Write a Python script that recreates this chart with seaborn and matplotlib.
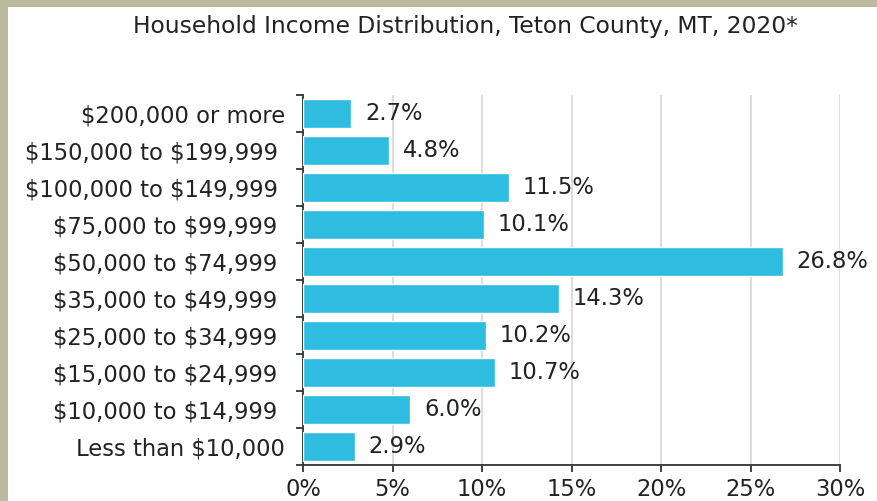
import matplotlib
matplotlib.use("Agg")
import matplotlib.pyplot as plt
from matplotlib.patches import Rectangle
from matplotlib.ticker import FixedLocator
import seaborn as sns
import pandas as pd

categories = ["$200,000 or more", "$150,000 to $199,999", "$100,000 to $149,999",
              "$75,000 to $99,999", "$50,000 to $74,999", "$35,000 to $49,999",
              "$25,000 to $34,999", "$15,000 to $24,999", "$10,000 to $14,999",
              "Less than $10,000"]
values = [2.7, 4.8, 11.5, 10.1, 26.8, 14.3, 10.2, 10.7, 6.0, 2.9]
x_ticks = [0, 5, 10, 15, 20, 25, 30]
x_tick_labels = ["0%", "5%", "10%", "15%", "20%", "25%", "30%"]
title = "Household Income Distribution, Teton County, MT, 2020*"

df = pd.DataFrame({"category": categories, "value": values})

sns.set_style("white")
plt.rcParams['font.family'] = ['DejaVu Sans']
plt.rcParams['text.parse_math'] = False

FS = 16.3

fig = plt.figure(figsize=(8.77, 5.01), dpi=100)
fig.patch.set_facecolor("#bcba9e")
fig.patches.append(Rectangle((8/877, 0), 1 - 8/877, 1 - 7/501, transform=fig.transFigure,
                             facecolor="white", edgecolor="none", zorder=-10))

ax = fig.add_axes([303/877, 1 - 465/501, 537/877, 370/501])
ax.set_facecolor("white")
sns.barplot(data=df, x="value", y="category", orient="h", color="#2ebde0",
            saturation=1, width=0.78, ax=ax, zorder=3)

ax.set_xlim(0, 30)
ax.set_ylim(9.5, -0.5)
ax.set_xticks(x_ticks)
ax.set_xticklabels(x_tick_labels, fontsize=FS, color="#222222")
ax.set_yticks(range(len(categories)))
# range labels in the reference carry a trailing space
ax.set_yticklabels([c + " " if " to " in c else c for c in categories],
                   fontsize=FS, color="#222222")
ax.tick_params(axis="y", which="major", length=0, pad=13)
ax.yaxis.set_minor_locator(FixedLocator([i - 0.5 for i in range(len(categories) + 1)]))
ax.tick_params(axis="y", which="minor", length=5, width=1.3, color="#333333", left=True)
ax.tick_params(axis="x", which="major", length=5, width=1.3, color="#333333", bottom=True, pad=4)
ax.set_xlabel("")
ax.set_ylabel("")
ax.grid(axis="x", color="#dddddd", linewidth=1.5, zorder=0)
ax.set_axisbelow(True)
for s in ["top", "right"]:
    ax.spines[s].set_visible(False)
for s in ["left", "bottom"]:
    ax.spines[s].set_color("#333333")
    ax.spines[s].set_linewidth(1.3)

for i, v in enumerate(values):
    ax.annotate(f"{v:.1f}%", xy=(v, i), xytext=(10, 0), textcoords="offset points",
                va="center", ha="left", fontsize=FS, color="#222222")

fig.text(465/877, 1 - 27/501, title, ha="center", va="center", fontsize=16.8, color="#222222")

fig.savefig("out.png", dpi=100, facecolor=fig.get_facecolor())
